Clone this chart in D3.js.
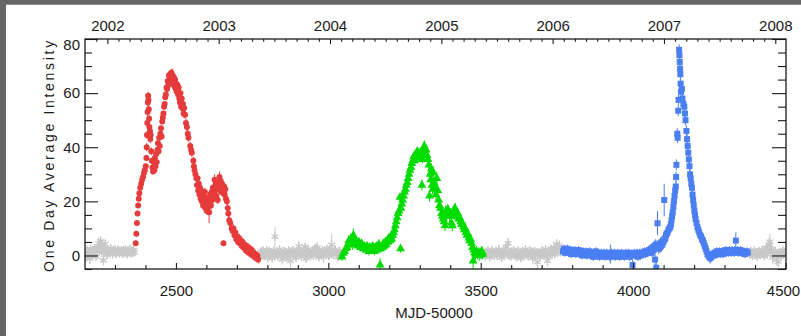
<!DOCTYPE html>
<meta charset="utf-8">
<head>
    <script src="https://cdn.jsdelivr.net/npm/d3@7"></script>
    <style>
        body { margin: 0; background: #ffffff; }
    </style>
</head>
<body>
    <svg width=801 height=336></svg>
</body>
<script>
    // [MJD-50000, one day average intensity, error]
    let grayPoints = [
        [2202,1.2,1.5],[2205,-0.8,1.5],[2208,2.0,1.5],[2211,0.4,1.5],[2214,1.6,1.5],[2217,-1.2,2],[2220,2.4,1.5],[2223,0.8,1.5],
        [2226,0.0,1.5],[2229,1.8,1.5],[2232,0.6,1.5],[2235,2.6,1.5],[2238,-0.4,1.5],[2241,1.4,1.5],[2244,3.2,2],[2247,4.6,2],
        [2250,2.2,1.5],[2253,5.2,2],[2256,1.0,1.5],[2259,3.8,2],[2262,-1.8,2],[2265,2.4,1.5],[2268,4.2,2],[2271,1.2,1.5],
        [2274,0.2,1.5],[2277,2.0,1.5],[2280,1.4,1.5],[2283,0.8,1.5],[2286,2.6,1.5],[2289,1.6,1.5],[2292,0.4,1.5],[2295,1.9,1.5],
        [2298,1.1,1.5],[2301,2.3,1.5],[2304,0.7,1.5],[2307,1.5,1.5],[2310,2.1,1.5],[2313,0.9,1.5],[2316,1.7,1.5],[2319,1.2,1.5],
        [2322,2.0,1.5],[2325,0.6,1.5],[2328,1.8,1.5],[2331,1.0,1.5],[2334,2.2,1.5],[2337,1.3,1.5],[2340,0.5,1.5],[2343,1.9,1.5],
        [2346,1.1,1.5],[2349,2.4,1.5],[2352,0.8,1.5],[2355,1.6,1.5],[2358,1.0,1.5],[2361,2.0,1.5],[2364,1.2,1.5],
        [2774,0.6,1.5],[2777,-0.6,1.5],[2780,1.4,1.5],[2783,0.2,1.5],[2786,1.8,1.5],[2789,-0.2,1.5],[2792,1.0,1.5],[2795,0.4,1.5],
        [2798,2.0,1.5],[2801,-0.8,1.5],[2804,0.8,1.5],[2807,1.6,1.5],[2810,0.0,1.5],[2813,1.2,1.5],[2816,-1.0,1.5],[2819,0.6,1.5],
        [2822,1.8,1.5],[2825,7.0,3.5],[2828,0.4,1.5],[2831,1.4,1.5],[2834,-0.4,1.5],[2837,0.8,1.5],[2840,2.2,1.5],[2843,0.2,1.5],
        [2846,1.0,1.5],[2849,-1.4,2],[2852,0.6,1.5],[2855,1.6,1.5],[2858,0.0,1.5],[2861,1.2,1.5],[2864,-0.6,1.5],[2867,0.8,1.5],
        [2870,1.8,1.5],[2873,0.4,1.5],[2876,-2.0,2.5],[2879,1.4,1.5],[2882,0.6,1.5],[2885,2.0,1.5],[2888,0.0,1.5],[2891,1.0,1.5],
        [2894,-0.8,1.5],[2897,0.8,1.5],[2900,1.6,1.5],[2903,3.4,2],[2906,0.2,1.5],[2909,1.2,1.5],[2912,-0.4,1.5],[2915,0.6,1.5],
        [2918,1.8,1.5],[2921,0.4,1.5],[2924,3.2,1.5],[2927,-1.2,1.5],[2930,0.8,1.5],[2933,2.2,1.5],[2936,0.2,1.5],[2939,1.4,1.5],
        [2942,-0.2,1.5],[2945,0.6,1.5],[2948,1.8,1.5],[2951,0.0,1.5],[2954,1.2,1.5],[2957,2.6,1.5],[2960,0.4,1.5],[2963,3.0,2],
        [2966,0.8,1.5],[2969,-0.6,1.5],[2972,1.4,1.5],[2975,0.2,1.5],[2978,1.0,1.5],[2981,2.0,1.5],[2984,-0.4,2.5],[2987,0.6,1.5],
        [2990,1.6,1.5],[2993,0.4,1.5],[2996,2.4,1.5],[2999,1.0,1.5],[3002,-0.2,1.5],[3005,1.8,1.5],[3008,0.6,1.5],[3011,3.9,4],
        [3014,1.2,1.5],[3017,0.2,1.5],[3020,1.4,1.5],[3023,2.2,1.5],[3026,0.4,1.5],[3029,1.0,1.5],[3032,-0.6,1.5],[3035,0.8,1.5],
        [3038,1.6,1.5],[3041,0.2,1.5],
        [3512,0.8,1.5],[3515,-0.4,1.5],[3518,1.4,1.5],[3521,0.2,1.5],[3524,1.8,1.5],[3527,0.6,1.5],[3530,-0.6,1.5],[3533,1.0,1.5],
        [3536,2.0,1.5],[3539,0.4,1.5],[3542,1.2,1.5],[3545,-0.2,1.5],[3548,0.8,1.5],[3551,1.6,1.5],[3554,0.0,1.5],[3557,1.2,1.5],
        [3560,2.2,1.5],[3563,0.4,1.5],[3566,1.0,1.5],[3569,-0.8,1.5],[3572,0.6,1.5],[3575,1.8,1.5],[3578,0.2,1.5],[3581,1.4,1.5],
        [3584,3.2,2],[3587,0.8,1.5],[3590,4.5,2],[3593,0.0,1.5],[3596,1.0,1.5],[3599,-0.4,1.5],[3602,1.4,1.5],[3605,0.6,1.5],
        [3608,2.0,1.5],[3611,0.2,1.5],[3614,1.2,1.5],[3617,-0.6,1.5],[3620,0.8,1.5],[3623,1.8,1.5],[3626,0.4,1.5],[3629,1.0,1.5],
        [3632,-1.0,1.5],[3635,0.6,1.5],[3638,1.6,1.5],[3641,0.0,1.5],[3644,1.2,1.5],[3647,2.2,1.5],[3650,0.4,1.5],[3653,1.0,1.5],
        [3656,-0.4,1.5],[3659,0.8,1.5],[3662,1.8,1.5],[3665,0.2,1.5],[3668,1.4,1.5],[3671,-1.0,2],[3674,0.6,1.5],[3677,1.6,1.5],
        [3680,0.0,1.5],[3683,1.2,1.5],[3686,-2.5,2.5],[3689,0.4,1.5],[3692,1.0,1.5],[3695,-0.6,1.5],[3698,0.8,1.5],[3701,1.8,1.5],
        [3704,0.2,1.5],[3707,1.4,1.5],[3710,0.6,1.5],[3713,2.2,1.5],[3716,0.2,1.5],[3719,-2.0,2],[3722,-0.2,1.5],[3725,1.6,1.5],
        [3728,0.8,1.5],[3731,2.4,1.5],[3734,0.4,1.5],[3737,1.4,1.5],[3740,2.8,2],[3743,0.6,1.5],[3746,1.8,1.5],[3749,4.2,2],
        [3752,1.0,1.5],[3755,2.2,1.5],[3758,3.6,2],[3761,1.2,1.5],[3764,2.0,1.5],
        [4380,1.2,1.5],[4383,0.2,1.5],[4386,1.6,1.5],[4389,0.6,1.5],[4392,-0.2,1.5],[4395,1.0,1.5],[4398,1.8,1.5],[4401,0.4,1.5],
        [4404,1.2,1.5],[4407,-0.4,1.5],[4410,0.8,1.5],[4413,1.6,1.5],[4416,0.2,1.5],[4419,1.0,1.5],[4422,2.0,1.5],[4425,0.6,1.5],
        [4428,1.4,1.5],[4431,-0.2,1.5],[4434,0.8,1.5],[4437,2.8,2],[4440,0.4,1.5],[4443,2.6,2],[4446,4.0,2.5],[4449,5.0,3],
        [4452,1.2,2],[4455,2.4,2],[4458,-0.8,2.5],[4461,1.0,1.5],[4464,0.2,1.5],[4467,1.6,1.5],[4470,-1.6,2],[4473,0.8,1.5],
        [4476,-2.4,2],[4479,0.4,1.5],[4482,1.2,1.5],[4485,-0.4,1.5],[4488,1.0,1.5],[4491,1.8,1.5],[4494,0.6,1.5],[4497,1.2,1.5]
    ];

    let redPoints = [
        [2368,4.5,1],[2370,8.0,1],[2372,12.0,1],[2374,15.5,1],[2376,18.5,1],[2378,21.0,1],[2380,23.0,1],[2383,25.0,1],
        [2386,26.5,1],[2389,28.0,1],[2392,29.0,1],[2395,30.5,1],[2398,31.5,1],[2401,33.0,1],[2403,36.0,1],[2404,40.0,1.5],
        [2405,44.5,1.5],[2406,49.0,1.5],[2407,53.0,1.5],[2408,56.5,1.5],[2409,59.0,1.5],[2410,57.5,1.5],[2411,54.0,1.5],[2412,50.5,1.5],
        [2413,47.5,1.5],[2415,46.0,1.5],[2416,43.0,1.5],[2417,44.5,1.5],[2419,38.5,1.5],[2421,35.0,1],[2423,32.5,1],[2425,31.0,1],
        [2427,34.5,1],[2429,31.5,1],[2431,36.0,1],[2433,33.0,1],[2435,37.5,1],[2437,34.5,1],[2439,39.0,1],[2441,41.5,1],
        [2443,38.5,1],[2445,43.5,1],[2447,40.5,1],[2449,45.0,1],[2451,47.0,1],[2453,44.0,1],[2455,49.5,1],[2457,51.0,1],
        [2459,52.5,1],[2461,55.0,1],[2463,56.0,1],[2465,58.5,1],[2467,59.5,1],[2469,62.0,1],[2471,61.5,1],[2473,64.5,1],
        [2475,63.0,1],[2477,66.5,1],[2479,64.0,1],[2481,67.0,1],[2483,64.5,1.5],[2485,67.5,1.5],[2487,65.0,1.5],[2489,66.5,2.5],
        [2491,63.5,1.5],[2493,66.0,1.5],[2495,62.5,1.5],[2497,65.0,1.5],[2499,61.5,1.5],[2501,63.5,1.5],[2503,60.5,1.5],[2505,63.0,1.5],
        [2507,59.5,1.5],[2509,62.0,1.5],[2511,58.0,1.5],[2513,56.5,2],[2515,60.0,1.5],[2517,55.0,1.5],[2519,58.0,1.5],[2521,54.5,1.5],
        [2523,56.0,1.5],[2525,52.5,1.5],[2527,54.5,1.5],[2530,52.0,1.5],[2533,49.0,1.5],[2536,47.5,1.5],[2539,45.0,1.5],[2541,43.5,1.5],
        [2547,40.5,1.5],[2550,39.0,1.5],[2552,38.0,1.5],[2557,35.0,1.5],[2559,33.0,1.5],[2561,31.5,1.5],[2564,30.0,1.5],[2567,28.5,1.5],
        [2569,26.0,1.5],[2571,28.5,1.5],[2573,24.0,1.5],[2575,26.5,1.5],[2577,22.5,1.5],[2579,25.0,1.5],[2581,21.0,1.5],[2583,24.0,1.5],
        [2585,20.0,1.5],[2587,23.0,1.5],[2589,18.5,1.5],[2591,22.0,1.5],[2593,19.0,1.5],[2595,23.5,1.5],[2597,17.5,1.5],[2599,21.0,1.5],
        [2601,16.5,1.5],[2603,20.0,1.5],[2605,18.0,1.5],[2607,21.5,1.5],[2609,16.0,4],[2611,19.5,1.5],[2613,22.5,1.5],[2615,18.5,1.5],
        [2617,23.5,1.5],[2619,20.5,1.5],[2621,25.0,1.5],[2623,21.5,1.5],[2625,23.0,1.5],[2627,28.0,2],[2629,24.0,1.5],[2631,26.5,1.5],
        [2633,22.0,1.5],[2635,25.5,1.5],[2637,20.5,1.5],[2639,24.5,1.5],[2641,27.0,1.5],[2643,29.0,2],[2645,25.0,1.5],[2647,27.5,1.5],
        [2649,23.5,1.5],[2651,26.5,1.5],[2653,24.5,1.5],[2656,4.5,1],[2658,25.5,1.5],[2660,22.5,1.5],[2662,24.5,1.5],[2664,21.0,1.5],
        [2667,20.0,1.5],[2670,17.5,1.5],[2672,15.5,1.5],[2675,13.0,1.5],[2678,12.0,1.5],[2683,10.0,1.5],[2686,9.0,1.5],[2689,10.0,1.5],
        [2692,7.5,1.5],[2695,8.5,1.5],[2698,6.0,1.5],[2701,7.0,1.5],[2704,5.0,1.5],[2707,6.5,1.5],[2710,4.5,1.5],[2713,5.5,1.5],
        [2716,3.5,1.5],[2719,5.0,1.5],[2722,3.0,1.5],[2725,4.0,1.5],[2728,2.0,1.5],[2731,3.5,1.5],[2734,1.5,1.5],[2737,3.0,1.5],
        [2740,1.0,1.5],[2743,2.5,1.5],[2746,0.5,1.5],[2749,2.0,1.5],[2752,0.0,1.5],[2755,1.0,1.5],[2758,-0.5,1.5],[2761,0.5,1.5],
        [2764,-1.0,1.5],[2767,0.0,1.5],[2770,-1.5,1.5]
    ];

    let greenPoints = [
        [3045,-0.5,1.5],[3049,0.8,1.5],[3053,1.5,1.5],[3057,2.5,1.5],[3061,3.0,1.5],[3064,4.0,2],[3067,5.5,2],[3070,4.5,2],
        [3073,6.0,2],[3076,5.0,2],[3079,4.0,2],[3082,7.5,2.5],[3085,5.0,2],[3088,4.5,1.5],[3091,5.5,1.5],[3094,4.5,1.5],
        [3097,3.5,1.5],[3100,5.0,1.5],[3103,4.0,1.5],[3106,3.0,1.5],[3109,4.5,1.5],[3112,3.5,1.5],[3115,2.5,1.5],[3118,3.5,1.5],
        [3121,3.0,1.5],[3124,2.0,1.5],[3127,3.5,1.5],[3130,2.5,1.5],[3133,1.5,1.5],[3136,3.0,1.5],[3139,2.0,1.5],[3142,2.5,1.5],
        [3145,3.5,1.5],[3148,2.0,1.5],[3151,1.5,1.5],[3154,3.0,1.5],[3157,2.0,1.5],[3160,3.5,1.5],[3163,2.5,1.5],[3166,4.0,2],
        [3170,-3.5,2.5],[3172,2.5,1.5],[3175,3.5,1.5],[3178,3.0,1.5],[3181,4.5,1.5],[3184,3.5,1.5],[3187,5.0,1.5],[3190,4.0,1.5],
        [3193,5.5,1.5],[3196,5.0,1.5],[3199,6.5,1.5],[3202,5.5,1.5],[3205,7.0,1.5],[3208,6.0,1.5],[3211,7.5,1.5],[3214,8.5,1.5],
        [3217,9.5,1.5],[3220,11.0,1.5],[3223,12.5,1.5],[3226,14.0,1.5],[3229,15.5,1.5],[3232,16.5,1.5],[3235,21.5,1.5],[3237,2.5,1.5],
        [3238,17.5,1.5],[3241,19.0,1.5],[3244,20.5,1.5],[3247,22.0,1.5],[3250,23.5,1.5],[3253,24.5,1.5],[3256,26.0,1.5],[3259,27.0,1.5],
        [3262,28.5,1.5],[3265,30.0,1.5],[3268,31.5,1.5],[3271,32.5,1.5],[3274,34.0,1.5],[3277,35.0,1.5],[3280,36.5,1.5],[3283,35.0,1.5],
        [3286,37.5,1.5],[3289,36.0,1.5],[3292,38.5,1.5],[3295,37.0,1.5],[3298,36.0,1.5],[3301,38.0,1.5],[3304,37.5,1.5],[3307,26.0,2],
        [3309,35.5,1.5],[3312,39.5,2],[3315,40.5,2],[3318,38.0,2],[3321,39.0,2],[3324,37.0,2],[3327,35.5,2],[3330,33.5,2],
        [3332,22.0,2],[3334,30.0,2],[3336,28.0,2],[3338,32.0,2],[3340,26.0,2],[3342,24.5,2],[3344,30.5,2.5],[3347,27.0,2],
        [3350,25.5,2],[3353,22.5,2],[3356,28.5,2.5],[3359,24.0,2],[3362,20.5,2],[3365,18.5,2],[3368,17.5,2],[3371,15.5,2],
        [3374,14.5,2],[3377,13.5,2],[3380,12.5,2],[3383,11.0,2],[3386,16.5,2],[3389,15.0,2],[3392,17.0,2],[3395,16.0,2],
        [3398,14.5,2],[3401,15.5,2],[3404,12.0,2],[3407,11.0,2],[3410,16.5,2],[3413,15.0,2],[3416,17.5,2],[3419,16.0,2],
        [3422,14.5,2],[3425,15.5,2],[3428,13.5,2],[3431,14.0,2],[3434,12.5,2],[3437,11.5,2],[3440,12.0,2],[3443,10.5,2],
        [3446,9.5,2],[3449,10.0,2],[3452,8.5,2],[3455,7.5,2],[3458,8.0,2],[3461,6.5,2],[3464,5.5,2],[3467,6.0,2],
        [3470,4.5,2],[3473,3.0,2],[3475,-2.0,3.5],[3477,2.0,2],[3480,1.0,2],[3483,0.5,2],[3486,1.5,2],[3489,0.5,2],
        [3492,1.0,2],[3495,0.0,2],[3498,1.0,2],[3501,0.5,2],[3504,1.5,2],[3507,0.5,2]
    ];

    let bluePoints = [
        [3770,1.5,1.5],[3773,2.5,1.5],[3776,1.0,1.5],[3779,2.0,1.5],[3782,1.5,1.5],[3785,2.5,1.5],[3788,1.0,1.5],[3791,2.0,1.5],
        [3794,1.5,1.5],[3797,0.5,1.5],[3800,2.0,1.5],[3803,1.0,1.5],[3806,1.5,1.5],[3809,2.0,1.5],[3812,0.5,1.5],[3815,1.5,1.5],
        [3818,1.0,1.5],[3821,2.0,1.5],[3824,0.5,1.5],[3827,1.5,1.5],[3830,1.0,1.5],[3833,0.0,1.5],[3836,1.5,1.5],[3839,0.5,1.5],
        [3842,1.0,1.5],[3845,1.5,1.5],[3848,0.0,1.5],[3851,1.0,1.5],[3854,0.5,1.5],[3857,1.5,1.5],[3860,0.0,1.5],[3863,1.0,1.5],
        [3866,0.5,1.5],[3869,-0.5,1.5],[3872,1.0,1.5],[3875,0.5,1.5],[3878,1.5,1.5],[3881,0.0,1.5],[3884,0.5,1.5],[3887,1.0,1.5],
        [3890,-0.5,1.5],[3893,0.5,1.5],[3896,1.0,1.5],[3899,0.0,1.5],[3902,0.5,1.5],[3905,1.0,1.5],[3908,-0.5,1.5],[3911,0.5,1.5],
        [3914,1.0,1.5],[3917,0.0,1.5],[3920,0.5,1.5],[3923,-0.5,1.5],[3926,0.5,3.5],[3929,1.0,1.5],[3932,0.0,1.5],[3935,0.5,1.5],
        [3938,1.0,1.5],[3941,-0.5,1.5],[3944,0.5,1.5],[3947,0.0,1.5],[3950,1.0,1.5],[3953,0.5,1.5],[3956,-0.5,1.5],[3959,0.5,1.5],
        [3962,1.0,1.5],[3965,0.0,1.5],[3968,0.5,1.5],[3971,-0.5,1.5],[3974,0.5,1.5],[3977,1.0,1.5],[3980,0.0,1.5],[3983,0.5,1.5],
        [3986,1.0,1.5],[3989,-0.5,1.5],[3992,0.5,1.5],[3995,0.0,1.5],[3998,-3.5,2],[4001,0.5,1.5],[4004,1.0,1.5],[4007,0.0,1.5],
        [4010,0.5,1.5],[4013,1.0,1.5],[4016,-0.5,1.5],[4019,0.5,1.5],[4022,1.0,1.5],[4025,0.0,1.5],[4028,0.5,1.5],[4031,1.0,1.5],
        [4034,0.5,1.5],[4037,1.5,1.5],[4040,0.5,1.5],[4043,1.0,1.5],[4046,1.5,1.5],[4049,1.0,1.5],[4052,2.0,1.5],[4055,1.5,1.5],
        [4058,2.5,1.5],[4061,1.0,1.5],[4064,3.0,1.5],[4067,2.0,2],[4070,3.5,2],[4072,-1.5,3],[4074,4.0,2],[4076,-4.5,2],
        [4078,3.5,2],[4080,11.9,4.5],[4082,3.5,2],[4084,2.5,2],[4086,4.0,2],[4088,3.0,2],[4090,4.5,2],[4092,3.5,2],
        [4094,5.0,2],[4096,4.0,2],[4098,5.5,2],[4100,5.0,2],[4102,20.5,6],[4104,6.0,2],[4106,6.5,2],[4108,7.5,2],
        [4110,8.0,2],[4113,8.5,2],[4116,9.5,2],[4119,10.0,2],[4122,10.5,2],[4124,11.5,2],[4126,13.0,2],[4128,14.5,2],
        [4130,16.0,2],[4132,18.0,2],[4134,20.0,2],[4136,22.0,2],[4138,24.0,2],[4140,25.5,2],[4141,29.0,2],[4142,33.5,2],
        [4145,45.0,2],[4146,43.5,2],[4148,53.5,2],[4149,57.5,2],[4151,76.0,2],[4152,74.0,2],[4153,71.5,2],[4154,69.0,2],
        [4155,67.0,2],[4156,63.5,2],[4157,60.5,2],[4160,61.5,2],[4162,58.0,2],[4165,56.0,2],[4168,55.0,2],[4170,52.5,2],
        [4172,50.0,2],[4175,46.0,2],[4177,43.0,2],[4179,40.5,2],[4181,38.0,2],[4183,35.5,2],[4185,33.0,2],[4187,30.0,2],
        [4189,28.5,2],[4191,26.5,2],[4193,25.0,2],[4195,22.5,2],[4197,20.5,2],[4199,18.5,2],[4201,16.5,2],[4203,15.0,2],
        [4205,13.5,2],[4208,12.0,2],[4211,10.5,2],[4214,9.5,2],[4217,8.5,2],[4220,7.5,2],[4223,7.0,2],[4226,6.0,2],
        [4229,5.5,2],[4232,4.5,2],[4235,3.5,2],[4238,2.5,2],[4241,1.5,2],[4244,0.5,2],[4247,0.0,2],[4250,-0.5,2],
        [4253,-1.0,2],[4256,-0.5,2],[4259,0.0,2],[4262,0.5,1.5],[4265,0.0,1.5],[4268,1.0,1.5],[4271,0.5,1.5],[4274,1.5,1.5],
        [4277,0.5,1.5],[4280,1.0,1.5],[4283,1.5,1.5],[4286,0.5,1.5],[4289,1.0,1.5],[4292,1.5,1.5],[4295,0.5,1.5],[4298,1.5,1.5],
        [4301,1.0,1.5],[4304,2.0,1.5],[4307,1.0,1.5],[4310,1.5,1.5],[4313,1.0,1.5],[4316,2.0,1.5],[4319,1.5,1.5],[4322,1.0,1.5],
        [4325,2.0,1.5],[4328,1.5,1.5],[4331,1.0,1.5],[4334,2.0,1.5],[4337,5.5,3],[4340,1.5,1.5],[4343,2.0,1.5],[4346,1.0,1.5],
        [4349,1.5,1.5],[4352,2.0,1.5],[4355,1.0,1.5],[4358,1.5,1.5],[4361,1.0,1.5],[4364,1.5,1.5],[4367,0.5,1.5],[4370,1.0,1.5],
        [4373,1.5,1.5],[4376,1.0,1.5]
    ];

    let xTicks = [2500, 3000, 3500, 4000, 4500];
    let yTicks = [0, 20, 40, 60, 80];
    let yearTicks = [2002, 2003, 2004, 2005, 2006, 2007, 2008];

    let fontFamily = '"Liberation Sans", Arial, sans-serif';
    let plotLeft = 85, plotRight = 786, plotTop = 39, plotBottom = 269;

    let x = d3.scaleLinear().domain([2200, 4500]).range([84.5, 785.5]);
    let y = d3.scaleLinear().domain([-5, 80]).range([plotBottom, plotTop]);

    // calendar year on the top axis (2002.0 = MJD 52275)
    function yearOf(mjd) { return 2002 + (mjd - 2275) / 365.25; }
    let xYear = d3.scaleLinear().domain([yearOf(2200), yearOf(4500)]).range(x.range());

    let svg = d3.select('svg');

    // grey window border
    svg.append('rect').attr('x', 0).attr('y', 0).attr('width', 6).attr('height', 336).attr('fill', '#666666');
    svg.append('rect').attr('x', 0).attr('y', 0).attr('width', 801).attr('height', 4.7).attr('fill', '#666666');

    svg.append('clipPath').attr('id', 'plotClip')
        .append('rect')
        .attr('x', plotLeft).attr('y', plotTop)
        .attr('width', plotRight - plotLeft).attr('height', plotBottom - plotTop);

    let plot = svg.append('g').attr('clip-path', 'url(#plotClip)');

    function drawSeries(points, color, symbol, size, stroked) {
        let g = plot.append('g');
        g.selectAll('line')
            .data(points)
            .enter()
            .append('line')
            .attr('x1', d => x(d[0]))
            .attr('x2', d => x(d[0]))
            .attr('y1', d => y(d[1] - d[2]))
            .attr('y2', d => y(d[1] + d[2]))
            .attr('stroke', color)
            .attr('stroke-width', 1);
        g.selectAll('path')
            .data(points)
            .enter()
            .append('path')
            .attr('transform', d => `translate(${x(d[0])},${y(d[1])})`)
            .attr('d', d3.symbol(symbol, size))
            .attr('fill', stroked ? 'none' : color)
            .attr('stroke', stroked ? color : 'none')
            .attr('stroke-width', 1.4);
    }

    drawSeries(grayPoints, '#c8c8c8', d3.symbolAsterisk, 46, true);
    drawSeries(redPoints, '#e63b3b', d3.symbolCircle, 28, false);
    drawSeries(greenPoints, '#00dc00', d3.symbolTriangle, 34, false);
    drawSeries(bluePoints, '#4a7ff2', d3.symbolSquare, 36, false);

    // axes
    function styleAxis(g) {
        g.select('.domain').remove();
        g.attr('color', '#1a1a1a')
            .attr('font-family', fontFamily)
            .attr('font-size', 15);
        g.selectAll('line').attr('stroke-width', 1.1);
    }

    let yMinor = d3.range(-5, 81, 5).filter(v => v % 20 !== 0);
    let xMinor = d3.range(2300, 4500, 100).filter(v => v % 500 !== 0);
    let yearMinor = d3.range(20019, 20082).map(v => v / 10).filter(v => Math.round(v * 10) % 10 !== 0 && v > yearOf(2200) && v < yearOf(4500));

    svg.append('g').attr('transform', `translate(${plotLeft},0)`)
        .call(d3.axisLeft(y).tickValues(yTicks).tickSize(-13).tickPadding(5))
        .call(styleAxis)
        .selectAll('text').filter(d => d === 80).attr('y', 6);
    svg.append('g').attr('transform', `translate(${plotLeft},0)`)
        .call(d3.axisLeft(y).tickValues(yMinor).tickSize(-7).tickFormat(''))
        .call(styleAxis);

    svg.append('g').attr('transform', `translate(${plotRight},0)`)
        .call(d3.axisRight(y).tickValues(yTicks).tickSize(-14).tickFormat(''))
        .call(styleAxis);
    svg.append('g').attr('transform', `translate(${plotRight},0)`)
        .call(d3.axisRight(y).tickValues(yMinor).tickSize(-8).tickFormat(''))
        .call(styleAxis);

    svg.append('g').attr('transform', `translate(0,${plotBottom})`)
        .call(d3.axisBottom(x).tickValues(xTicks).tickSize(-6).tickPadding(16).tickFormat(d3.format('d')))
        .call(styleAxis)
        .selectAll('text').filter(d => d === 4500).attr('dx', -2.5);
    svg.append('g').attr('transform', `translate(0,${plotBottom})`)
        .call(d3.axisBottom(x).tickValues(xMinor).tickSize(-4).tickFormat(''))
        .call(styleAxis);

    svg.append('g').attr('transform', `translate(0,${plotTop})`)
        .call(d3.axisTop(xYear).tickValues(yearTicks).tickSize(-5).tickPadding(8).tickFormat(d3.format('d')))
        .call(styleAxis);
    svg.append('g').attr('transform', `translate(0,${plotTop})`)
        .call(d3.axisTop(xYear).tickValues(yearMinor).tickSize(-2.7).tickFormat(''))
        .call(styleAxis);

    // frame
    svg.append('rect')
        .attr('x', plotLeft).attr('y', plotTop)
        .attr('width', plotRight - plotLeft).attr('height', plotBottom - plotTop)
        .attr('fill', 'none')
        .attr('stroke', '#1a1a1a')
        .attr('stroke-width', 1.3);

    // titles
    svg.append('text')
        .attr('transform', 'translate(53.5,155) rotate(-90)')
        .attr('text-anchor', 'middle')
        .attr('font-family', fontFamily)
        .attr('font-size', 14)
        .attr('letter-spacing', 2.7)
        .attr('fill', '#1a1a1a')
        .text('One Day Average Intensity');

    svg.append('text')
        .attr('x', 434)
        .attr('y', 318)
        .attr('text-anchor', 'middle')
        .attr('font-family', fontFamily)
        .attr('font-size', 15)
        .attr('fill', '#1a1a1a')
        .text('MJD-50000');
</script>
